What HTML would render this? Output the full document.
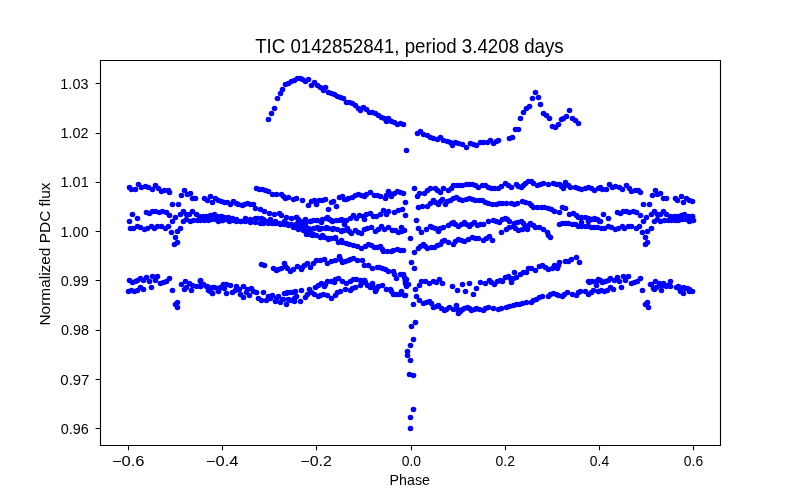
<!DOCTYPE html>
<html><head><meta charset="utf-8"><style>
html,body{margin:0;padding:0;background:#fff;width:800px;height:500px;overflow:hidden}
svg{display:block;will-change:transform}
text{font-family:"Liberation Sans",sans-serif;fill:#000}
</style></head><body>
<svg width="800" height="500" viewBox="0 0 800 500">
<rect width="800" height="500" fill="#fff"/>
<g fill="#0000ff"><circle cx="268.5" cy="119.5" r="2.78"/><circle cx="271.5" cy="113.5" r="2.78"/><circle cx="274.5" cy="108.5" r="2.78"/><circle cx="277.5" cy="98.5" r="2.78"/><circle cx="280.5" cy="93.5" r="2.78"/><circle cx="282.5" cy="89.5" r="2.78"/><circle cx="285.5" cy="84.5" r="2.78"/><circle cx="288.5" cy="83.5" r="2.78"/><circle cx="291.5" cy="81.5" r="2.78"/><circle cx="294.5" cy="80.5" r="2.78"/><circle cx="297.5" cy="78.5" r="2.78"/><circle cx="300.5" cy="78.5" r="2.78"/><circle cx="302.5" cy="79.5" r="2.78"/><circle cx="305.5" cy="81.5" r="2.78"/><circle cx="308.5" cy="79.5" r="2.78"/><circle cx="311.5" cy="85.5" r="2.78"/><circle cx="314.5" cy="82.5" r="2.78"/><circle cx="317.5" cy="85.5" r="2.78"/><circle cx="320.5" cy="87.5" r="2.78"/><circle cx="323.5" cy="90.5" r="2.78"/><circle cx="325.5" cy="87.5" r="2.78"/><circle cx="328.5" cy="92.5" r="2.78"/><circle cx="331.5" cy="93.5" r="2.78"/><circle cx="334.5" cy="94.5" r="2.78"/><circle cx="337.5" cy="96.5" r="2.78"/><circle cx="340.5" cy="97.5" r="2.78"/><circle cx="343.5" cy="98.5" r="2.78"/><circle cx="346.5" cy="102.5" r="2.78"/><circle cx="349.5" cy="102.5" r="2.78"/><circle cx="352.5" cy="103.5" r="2.78"/><circle cx="355.5" cy="105.5" r="2.78"/><circle cx="358.5" cy="108.5" r="2.78"/><circle cx="360.5" cy="110.5" r="2.78"/><circle cx="363.5" cy="107.5" r="2.78"/><circle cx="366.5" cy="109.5" r="2.78"/><circle cx="369.5" cy="112.5" r="2.78"/><circle cx="372.5" cy="112.5" r="2.78"/><circle cx="375.5" cy="113.5" r="2.78"/><circle cx="378.5" cy="115.5" r="2.78"/><circle cx="381.5" cy="117.5" r="2.78"/><circle cx="384.5" cy="118.5" r="2.78"/><circle cx="386.5" cy="121.5" r="2.78"/><circle cx="388.5" cy="118.5" r="2.78"/><circle cx="391.5" cy="121.5" r="2.78"/><circle cx="394.5" cy="122.5" r="2.78"/><circle cx="397.5" cy="124.5" r="2.78"/><circle cx="400.5" cy="123.5" r="2.78"/><circle cx="403.5" cy="124.5" r="2.78"/><circle cx="406.5" cy="150.5" r="2.78"/><circle cx="417.5" cy="133.5" r="2.78"/><circle cx="420.5" cy="131.5" r="2.78"/><circle cx="423.5" cy="134.5" r="2.78"/><circle cx="427.5" cy="135.5" r="2.78"/><circle cx="430.5" cy="137.5" r="2.78"/><circle cx="433.5" cy="138.5" r="2.78"/><circle cx="437.5" cy="139.5" r="2.78"/><circle cx="440.5" cy="137.5" r="2.78"/><circle cx="443.5" cy="140.5" r="2.78"/><circle cx="447.5" cy="141.5" r="2.78"/><circle cx="450.5" cy="142.5" r="2.78"/><circle cx="452.5" cy="145.5" r="2.78"/><circle cx="455.5" cy="142.5" r="2.78"/><circle cx="458.5" cy="143.5" r="2.78"/><circle cx="462.5" cy="144.5" r="2.78"/><circle cx="466.5" cy="147.5" r="2.78"/><circle cx="470.5" cy="143.5" r="2.78"/><circle cx="473.5" cy="144.5" r="2.78"/><circle cx="476.5" cy="145.5" r="2.78"/><circle cx="480.5" cy="142.5" r="2.78"/><circle cx="483.5" cy="142.5" r="2.78"/><circle cx="487.5" cy="142.5" r="2.78"/><circle cx="490.5" cy="140.5" r="2.78"/><circle cx="493.5" cy="143.5" r="2.78"/><circle cx="496.5" cy="141.5" r="2.78"/><circle cx="498.5" cy="140.5" r="2.78"/><circle cx="509.5" cy="138.5" r="2.78"/><circle cx="512.5" cy="137.5" r="2.78"/><circle cx="515.5" cy="129.5" r="2.78"/><circle cx="518.5" cy="129.5" r="2.78"/><circle cx="520.5" cy="118.5" r="2.78"/><circle cx="523.5" cy="112.5" r="2.78"/><circle cx="526.5" cy="108.5" r="2.78"/><circle cx="529.5" cy="106.5" r="2.78"/><circle cx="532.5" cy="98.5" r="2.78"/><circle cx="535.5" cy="92.5" r="2.78"/><circle cx="538.5" cy="97.5" r="2.78"/><circle cx="540.5" cy="104.5" r="2.78"/><circle cx="543.5" cy="113.5" r="2.78"/><circle cx="546.5" cy="115.5" r="2.78"/><circle cx="549.5" cy="118.5" r="2.78"/><circle cx="552.5" cy="126.5" r="2.78"/><circle cx="555.5" cy="127.5" r="2.78"/><circle cx="558.5" cy="124.5" r="2.78"/><circle cx="561.5" cy="119.5" r="2.78"/><circle cx="563.5" cy="118.5" r="2.78"/><circle cx="566.5" cy="116.5" r="2.78"/><circle cx="569.5" cy="110.5" r="2.78"/><circle cx="572.5" cy="118.5" r="2.78"/><circle cx="575.5" cy="120.5" r="2.78"/><circle cx="578.5" cy="123.5" r="2.78"/><circle cx="302.5" cy="200.5" r="2.78"/><circle cx="308.5" cy="205.5" r="2.78"/><circle cx="311.5" cy="201.5" r="2.78"/><circle cx="314.5" cy="200.5" r="2.78"/><circle cx="316.5" cy="204.5" r="2.78"/><circle cx="319.5" cy="200.5" r="2.78"/><circle cx="322.5" cy="200.5" r="2.78"/><circle cx="325.5" cy="199.5" r="2.78"/><circle cx="328.5" cy="209.5" r="2.78"/><circle cx="331.5" cy="202.5" r="2.78"/><circle cx="333.5" cy="201.5" r="2.78"/><circle cx="336.5" cy="206.5" r="2.78"/><circle cx="405.5" cy="202.5" r="2.78"/><circle cx="405.5" cy="215.5" r="2.78"/><circle cx="401.5" cy="227.5" r="2.78"/><circle cx="296.5" cy="217.5" r="2.78"/><circle cx="297.5" cy="223.5" r="2.78"/><circle cx="297.5" cy="228.5" r="2.78"/><circle cx="302.5" cy="222.5" r="2.78"/><circle cx="301.5" cy="228.5" r="2.78"/><circle cx="306.5" cy="232.5" r="2.78"/><circle cx="310.5" cy="221.5" r="2.78"/><circle cx="316.5" cy="220.5" r="2.78"/><circle cx="314.5" cy="228.5" r="2.78"/><circle cx="312.5" cy="235.5" r="2.78"/><circle cx="321.5" cy="222.5" r="2.78"/><circle cx="319.5" cy="229.5" r="2.78"/><circle cx="322.5" cy="235.5" r="2.78"/><circle cx="327.5" cy="217.5" r="2.78"/><circle cx="326.5" cy="227.5" r="2.78"/><circle cx="331.5" cy="220.5" r="2.78"/><circle cx="333.5" cy="228.5" r="2.78"/><circle cx="335.5" cy="237.5" r="2.78"/><circle cx="339.5" cy="220.5" r="2.78"/><circle cx="342.5" cy="230.5" r="2.78"/><circle cx="344.5" cy="224.5" r="2.78"/><circle cx="341.5" cy="240.5" r="2.78"/><circle cx="328.5" cy="238.5" r="2.78"/><circle cx="296.5" cy="225.5" r="2.78"/><circle cx="305.5" cy="219.5" r="2.78"/><circle cx="308.5" cy="228.5" r="2.78"/><circle cx="200.5" cy="280.5" r="2.78"/><circle cx="200.5" cy="286.5" r="2.78"/><circle cx="206.5" cy="286.5" r="2.78"/><circle cx="208.5" cy="290.5" r="2.78"/><circle cx="212.5" cy="293.5" r="2.78"/><circle cx="214.5" cy="287.5" r="2.78"/><circle cx="218.5" cy="290.5" r="2.78"/><circle cx="223.5" cy="284.5" r="2.78"/><circle cx="226.5" cy="284.5" r="2.78"/><circle cx="224.5" cy="288.5" r="2.78"/><circle cx="226.5" cy="293.5" r="2.78"/><circle cx="230.5" cy="285.5" r="2.78"/><circle cx="232.5" cy="292.5" r="2.78"/><circle cx="236.5" cy="286.5" r="2.78"/><circle cx="243.5" cy="286.5" r="2.78"/><circle cx="235.5" cy="290.5" r="2.78"/><circle cx="240.5" cy="294.5" r="2.78"/><circle cx="243.5" cy="297.5" r="2.78"/><circle cx="246.5" cy="292.5" r="2.78"/><circle cx="203.5" cy="284.5" r="2.78"/><circle cx="210.5" cy="288.5" r="2.78"/><circle cx="220.5" cy="287.5" r="2.78"/><circle cx="239.5" cy="289.5" r="2.78"/><circle cx="247.5" cy="289.5" r="2.78"/><circle cx="251.5" cy="288.5" r="2.78"/><circle cx="249.5" cy="295.5" r="2.78"/><circle cx="256.5" cy="292.5" r="2.78"/><circle cx="258.5" cy="298.5" r="2.78"/><circle cx="261.5" cy="300.5" r="2.78"/><circle cx="263.5" cy="292.5" r="2.78"/><circle cx="266.5" cy="300.5" r="2.78"/><circle cx="268.5" cy="296.5" r="2.78"/><circle cx="272.5" cy="295.5" r="2.78"/><circle cx="275.5" cy="301.5" r="2.78"/><circle cx="278.5" cy="296.5" r="2.78"/><circle cx="280.5" cy="302.5" r="2.78"/><circle cx="284.5" cy="293.5" r="2.78"/><circle cx="287.5" cy="292.5" r="2.78"/><circle cx="286.5" cy="304.5" r="2.78"/><circle cx="288.5" cy="299.5" r="2.78"/><circle cx="292.5" cy="292.5" r="2.78"/><circle cx="294.5" cy="298.5" r="2.78"/><circle cx="253.5" cy="291.5" r="2.78"/><circle cx="270.5" cy="298.5" r="2.78"/><circle cx="276.5" cy="298.5" r="2.78"/><circle cx="283.5" cy="299.5" r="2.78"/><circle cx="286.5" cy="293.5" r="2.78"/><circle cx="290.5" cy="292.5" r="2.78"/><circle cx="295.5" cy="291.5" r="2.78"/><circle cx="301.5" cy="290.5" r="2.78"/><circle cx="309.5" cy="289.5" r="2.78"/><circle cx="311.5" cy="292.5" r="2.78"/><circle cx="282.5" cy="299.5" r="2.78"/><circle cx="290.5" cy="300.5" r="2.78"/><circle cx="294.5" cy="301.5" r="2.78"/><circle cx="300.5" cy="301.5" r="2.78"/><circle cx="296.5" cy="296.5" r="2.78"/><circle cx="305.5" cy="297.5" r="2.78"/><circle cx="307.5" cy="294.5" r="2.78"/><circle cx="405.5" cy="280.5" r="2.78"/><circle cx="406.5" cy="279.5" r="2.78"/><circle cx="408.5" cy="284.5" r="2.78"/><circle cx="405.5" cy="295.5" r="2.78"/><circle cx="413.5" cy="304.5" r="2.78"/><circle cx="415.5" cy="322.5" r="2.78"/><circle cx="411.5" cy="326.5" r="2.78"/><circle cx="413.5" cy="339.5" r="2.78"/><circle cx="410.5" cy="345.5" r="2.78"/><circle cx="407.5" cy="351.5" r="2.78"/><circle cx="407.5" cy="355.5" r="2.78"/><circle cx="410.5" cy="360.5" r="2.78"/><circle cx="409.5" cy="374.5" r="2.78"/><circle cx="413.5" cy="375.5" r="2.78"/><circle cx="413.5" cy="409.5" r="2.78"/><circle cx="410.5" cy="417.5" r="2.78"/><circle cx="410.5" cy="428.5" r="2.78"/><circle cx="411.5" cy="262.5" r="2.78"/><circle cx="414.5" cy="268.5" r="2.78"/><circle cx="415.5" cy="289.5" r="2.78"/><circle cx="410.5" cy="238.5" r="2.78"/><circle cx="414.5" cy="188.5" r="2.78"/><circle cx="416.5" cy="220.5" r="2.78"/><circle cx="417.5" cy="196.5" r="2.78"/><circle cx="562.5" cy="207.5" r="2.78"/><circle cx="565.5" cy="208.5" r="2.78"/><circle cx="581.5" cy="222.5" r="2.78"/><circle cx="588.5" cy="221.5" r="2.78"/><circle cx="594.5" cy="219.5" r="2.78"/><circle cx="599.5" cy="221.5" r="2.78"/><circle cx="452.5" cy="286.5" r="2.78"/><circle cx="457.5" cy="290.5" r="2.78"/><circle cx="462.5" cy="284.5" r="2.78"/><circle cx="465.5" cy="291.5" r="2.78"/><circle cx="469.5" cy="283.5" r="2.78"/><circle cx="473.5" cy="294.5" r="2.78"/><circle cx="476.5" cy="288.5" r="2.78"/><circle cx="588.5" cy="281.5" r="2.78"/><circle cx="591.5" cy="281.5" r="2.78"/><circle cx="596.5" cy="285.5" r="2.78"/><circle cx="598.5" cy="279.5" r="2.78"/><circle cx="224.5" cy="202.5" r="2.78"/><circle cx="227.5" cy="202.5" r="2.78"/><circle cx="230.5" cy="204.5" r="2.78"/><circle cx="233.5" cy="201.5" r="2.78"/><circle cx="236.5" cy="203.5" r="2.78"/><circle cx="238.5" cy="204.5" r="2.78"/><circle cx="242.5" cy="205.5" r="2.78"/><circle cx="244.5" cy="204.5" r="2.78"/><circle cx="247.5" cy="203.5" r="2.78"/><circle cx="250.5" cy="204.5" r="2.78"/><circle cx="253.5" cy="204.5" r="2.78"/><circle cx="255.5" cy="208.5" r="2.78"/><circle cx="260.5" cy="209.5" r="2.78"/><circle cx="264.5" cy="211.5" r="2.78"/><circle cx="269.5" cy="213.5" r="2.78"/><circle cx="274.5" cy="214.5" r="2.78"/><circle cx="279.5" cy="213.5" r="2.78"/><circle cx="281.5" cy="215.5" r="2.78"/><circle cx="286.5" cy="217.5" r="2.78"/><circle cx="291.5" cy="218.5" r="2.78"/><circle cx="296.5" cy="217.5" r="2.78"/><circle cx="298.5" cy="219.5" r="2.78"/><circle cx="300.5" cy="221.5" r="2.78"/><circle cx="305.5" cy="223.5" r="2.78"/><circle cx="310.5" cy="221.5" r="2.78"/><circle cx="313.5" cy="220.5" r="2.78"/><circle cx="317.5" cy="220.5" r="2.78"/><circle cx="322.5" cy="219.5" r="2.78"/><circle cx="326.5" cy="218.5" r="2.78"/><circle cx="329.5" cy="219.5" r="2.78"/><circle cx="332.5" cy="221.5" r="2.78"/><circle cx="336.5" cy="220.5" r="2.78"/><circle cx="341.5" cy="219.5" r="2.78"/><circle cx="343.5" cy="220.5" r="2.78"/><circle cx="346.5" cy="220.5" r="2.78"/><circle cx="350.5" cy="218.5" r="2.78"/><circle cx="353.5" cy="215.5" r="2.78"/><circle cx="356.5" cy="218.5" r="2.78"/><circle cx="359.5" cy="215.5" r="2.78"/><circle cx="363.5" cy="216.5" r="2.78"/><circle cx="364.5" cy="219.5" r="2.78"/><circle cx="366.5" cy="214.5" r="2.78"/><circle cx="370.5" cy="213.5" r="2.78"/><circle cx="373.5" cy="216.5" r="2.78"/><circle cx="376.5" cy="216.5" r="2.78"/><circle cx="380.5" cy="214.5" r="2.78"/><circle cx="383.5" cy="210.5" r="2.78"/><circle cx="386.5" cy="214.5" r="2.78"/><circle cx="388.5" cy="211.5" r="2.78"/><circle cx="394.5" cy="212.5" r="2.78"/><circle cx="398.5" cy="210.5" r="2.78"/><circle cx="402.5" cy="209.5" r="2.78"/><circle cx="221.5" cy="216.5" r="2.78"/><circle cx="224.5" cy="217.5" r="2.78"/><circle cx="228.5" cy="217.5" r="2.78"/><circle cx="232.5" cy="218.5" r="2.78"/><circle cx="236.5" cy="219.5" r="2.78"/><circle cx="240.5" cy="221.5" r="2.78"/><circle cx="245.5" cy="218.5" r="2.78"/><circle cx="250.5" cy="219.5" r="2.78"/><circle cx="255.5" cy="218.5" r="2.78"/><circle cx="257.5" cy="218.5" r="2.78"/><circle cx="261.5" cy="218.5" r="2.78"/><circle cx="263.5" cy="219.5" r="2.78"/><circle cx="266.5" cy="221.5" r="2.78"/><circle cx="270.5" cy="219.5" r="2.78"/><circle cx="275.5" cy="221.5" r="2.78"/><circle cx="279.5" cy="223.5" r="2.78"/><circle cx="284.5" cy="221.5" r="2.78"/><circle cx="286.5" cy="223.5" r="2.78"/><circle cx="288.5" cy="225.5" r="2.78"/><circle cx="293.5" cy="227.5" r="2.78"/><circle cx="298.5" cy="229.5" r="2.78"/><circle cx="303.5" cy="230.5" r="2.78"/><circle cx="306.5" cy="234.5" r="2.78"/><circle cx="309.5" cy="234.5" r="2.78"/><circle cx="313.5" cy="234.5" r="2.78"/><circle cx="316.5" cy="235.5" r="2.78"/><circle cx="320.5" cy="237.5" r="2.78"/><circle cx="324.5" cy="237.5" r="2.78"/><circle cx="328.5" cy="239.5" r="2.78"/><circle cx="331.5" cy="238.5" r="2.78"/><circle cx="335.5" cy="238.5" r="2.78"/><circle cx="338.5" cy="242.5" r="2.78"/><circle cx="342.5" cy="242.5" r="2.78"/><circle cx="346.5" cy="243.5" r="2.78"/><circle cx="349.5" cy="244.5" r="2.78"/><circle cx="353.5" cy="245.5" r="2.78"/><circle cx="357.5" cy="246.5" r="2.78"/><circle cx="361.5" cy="248.5" r="2.78"/><circle cx="365.5" cy="246.5" r="2.78"/><circle cx="368.5" cy="244.5" r="2.78"/><circle cx="371.5" cy="245.5" r="2.78"/><circle cx="374.5" cy="247.5" r="2.78"/><circle cx="377.5" cy="247.5" r="2.78"/><circle cx="380.5" cy="246.5" r="2.78"/><circle cx="382.5" cy="249.5" r="2.78"/><circle cx="383.5" cy="251.5" r="2.78"/><circle cx="387.5" cy="251.5" r="2.78"/><circle cx="391.5" cy="251.5" r="2.78"/><circle cx="393.5" cy="250.5" r="2.78"/><circle cx="397.5" cy="249.5" r="2.78"/><circle cx="400.5" cy="250.5" r="2.78"/><circle cx="403.5" cy="250.5" r="2.78"/><circle cx="222.5" cy="220.5" r="2.78"/><circle cx="226.5" cy="219.5" r="2.78"/><circle cx="229.5" cy="221.5" r="2.78"/><circle cx="233.5" cy="220.5" r="2.78"/><circle cx="236.5" cy="221.5" r="2.78"/><circle cx="241.5" cy="221.5" r="2.78"/><circle cx="245.5" cy="221.5" r="2.78"/><circle cx="250.5" cy="222.5" r="2.78"/><circle cx="255.5" cy="222.5" r="2.78"/><circle cx="260.5" cy="223.5" r="2.78"/><circle cx="263.5" cy="223.5" r="2.78"/><circle cx="268.5" cy="223.5" r="2.78"/><circle cx="272.5" cy="223.5" r="2.78"/><circle cx="275.5" cy="223.5" r="2.78"/><circle cx="280.5" cy="224.5" r="2.78"/><circle cx="284.5" cy="224.5" r="2.78"/><circle cx="288.5" cy="224.5" r="2.78"/><circle cx="291.5" cy="224.5" r="2.78"/><circle cx="296.5" cy="224.5" r="2.78"/><circle cx="299.5" cy="225.5" r="2.78"/><circle cx="303.5" cy="225.5" r="2.78"/><circle cx="306.5" cy="227.5" r="2.78"/><circle cx="310.5" cy="230.5" r="2.78"/><circle cx="313.5" cy="228.5" r="2.78"/><circle cx="317.5" cy="227.5" r="2.78"/><circle cx="321.5" cy="228.5" r="2.78"/><circle cx="325.5" cy="228.5" r="2.78"/><circle cx="328.5" cy="228.5" r="2.78"/><circle cx="332.5" cy="229.5" r="2.78"/><circle cx="337.5" cy="229.5" r="2.78"/><circle cx="341.5" cy="231.5" r="2.78"/><circle cx="344.5" cy="230.5" r="2.78"/><circle cx="347.5" cy="228.5" r="2.78"/><circle cx="349.5" cy="231.5" r="2.78"/><circle cx="351.5" cy="233.5" r="2.78"/><circle cx="355.5" cy="230.5" r="2.78"/><circle cx="358.5" cy="232.5" r="2.78"/><circle cx="361.5" cy="233.5" r="2.78"/><circle cx="364.5" cy="229.5" r="2.78"/><circle cx="367.5" cy="228.5" r="2.78"/><circle cx="371.5" cy="227.5" r="2.78"/><circle cx="375.5" cy="231.5" r="2.78"/><circle cx="378.5" cy="229.5" r="2.78"/><circle cx="381.5" cy="226.5" r="2.78"/><circle cx="384.5" cy="229.5" r="2.78"/><circle cx="388.5" cy="227.5" r="2.78"/><circle cx="392.5" cy="230.5" r="2.78"/><circle cx="395.5" cy="230.5" r="2.78"/><circle cx="398.5" cy="232.5" r="2.78"/><circle cx="401.5" cy="231.5" r="2.78"/><circle cx="404.5" cy="230.5" r="2.78"/><circle cx="256.5" cy="188.5" r="2.78"/><circle cx="259.5" cy="189.5" r="2.78"/><circle cx="262.5" cy="189.5" r="2.78"/><circle cx="265.5" cy="190.5" r="2.78"/><circle cx="268.5" cy="191.5" r="2.78"/><circle cx="272.5" cy="194.5" r="2.78"/><circle cx="276.5" cy="194.5" r="2.78"/><circle cx="281.5" cy="194.5" r="2.78"/><circle cx="283.5" cy="196.5" r="2.78"/><circle cx="285.5" cy="198.5" r="2.78"/><circle cx="288.5" cy="197.5" r="2.78"/><circle cx="293.5" cy="199.5" r="2.78"/><circle cx="296.5" cy="198.5" r="2.78"/><circle cx="339.5" cy="197.5" r="2.78"/><circle cx="342.5" cy="196.5" r="2.78"/><circle cx="344.5" cy="199.5" r="2.78"/><circle cx="346.5" cy="199.5" r="2.78"/><circle cx="348.5" cy="198.5" r="2.78"/><circle cx="352.5" cy="197.5" r="2.78"/><circle cx="355.5" cy="195.5" r="2.78"/><circle cx="358.5" cy="194.5" r="2.78"/><circle cx="361.5" cy="195.5" r="2.78"/><circle cx="364.5" cy="196.5" r="2.78"/><circle cx="366.5" cy="194.5" r="2.78"/><circle cx="370.5" cy="192.5" r="2.78"/><circle cx="374.5" cy="195.5" r="2.78"/><circle cx="377.5" cy="195.5" r="2.78"/><circle cx="380.5" cy="196.5" r="2.78"/><circle cx="385.5" cy="198.5" r="2.78"/><circle cx="386.5" cy="195.5" r="2.78"/><circle cx="388.5" cy="191.5" r="2.78"/><circle cx="389.5" cy="193.5" r="2.78"/><circle cx="391.5" cy="196.5" r="2.78"/><circle cx="394.5" cy="193.5" r="2.78"/><circle cx="397.5" cy="191.5" r="2.78"/><circle cx="400.5" cy="192.5" r="2.78"/><circle cx="403.5" cy="193.5" r="2.78"/><circle cx="261.5" cy="264.5" r="2.78"/><circle cx="264.5" cy="265.5" r="2.78"/><circle cx="273.5" cy="268.5" r="2.78"/><circle cx="276.5" cy="270.5" r="2.78"/><circle cx="278.5" cy="269.5" r="2.78"/><circle cx="281.5" cy="268.5" r="2.78"/><circle cx="284.5" cy="263.5" r="2.78"/><circle cx="285.5" cy="266.5" r="2.78"/><circle cx="287.5" cy="268.5" r="2.78"/><circle cx="290.5" cy="271.5" r="2.78"/><circle cx="293.5" cy="269.5" r="2.78"/><circle cx="297.5" cy="266.5" r="2.78"/><circle cx="301.5" cy="269.5" r="2.78"/><circle cx="302.5" cy="267.5" r="2.78"/><circle cx="304.5" cy="265.5" r="2.78"/><circle cx="307.5" cy="263.5" r="2.78"/><circle cx="310.5" cy="267.5" r="2.78"/><circle cx="313.5" cy="263.5" r="2.78"/><circle cx="316.5" cy="260.5" r="2.78"/><circle cx="320.5" cy="260.5" r="2.78"/><circle cx="324.5" cy="259.5" r="2.78"/><circle cx="327.5" cy="263.5" r="2.78"/><circle cx="331.5" cy="261.5" r="2.78"/><circle cx="335.5" cy="260.5" r="2.78"/><circle cx="339.5" cy="256.5" r="2.78"/><circle cx="340.5" cy="259.5" r="2.78"/><circle cx="342.5" cy="262.5" r="2.78"/><circle cx="345.5" cy="261.5" r="2.78"/><circle cx="348.5" cy="260.5" r="2.78"/><circle cx="350.5" cy="259.5" r="2.78"/><circle cx="353.5" cy="258.5" r="2.78"/><circle cx="357.5" cy="260.5" r="2.78"/><circle cx="362.5" cy="260.5" r="2.78"/><circle cx="364.5" cy="265.5" r="2.78"/><circle cx="368.5" cy="265.5" r="2.78"/><circle cx="372.5" cy="268.5" r="2.78"/><circle cx="377.5" cy="267.5" r="2.78"/><circle cx="379.5" cy="267.5" r="2.78"/><circle cx="382.5" cy="268.5" r="2.78"/><circle cx="385.5" cy="269.5" r="2.78"/><circle cx="388.5" cy="271.5" r="2.78"/><circle cx="393.5" cy="271.5" r="2.78"/><circle cx="394.5" cy="274.5" r="2.78"/><circle cx="396.5" cy="278.5" r="2.78"/><circle cx="400.5" cy="274.5" r="2.78"/><circle cx="403.5" cy="274.5" r="2.78"/><circle cx="404.5" cy="277.5" r="2.78"/><circle cx="405.5" cy="280.5" r="2.78"/><circle cx="405.5" cy="283.5" r="2.78"/><circle cx="406.5" cy="286.5" r="2.78"/><circle cx="314.5" cy="294.5" r="2.78"/><circle cx="318.5" cy="296.5" r="2.78"/><circle cx="320.5" cy="295.5" r="2.78"/><circle cx="323.5" cy="294.5" r="2.78"/><circle cx="327.5" cy="295.5" r="2.78"/><circle cx="331.5" cy="298.5" r="2.78"/><circle cx="335.5" cy="295.5" r="2.78"/><circle cx="337.5" cy="292.5" r="2.78"/><circle cx="340.5" cy="291.5" r="2.78"/><circle cx="345.5" cy="289.5" r="2.78"/><circle cx="350.5" cy="290.5" r="2.78"/><circle cx="352.5" cy="288.5" r="2.78"/><circle cx="355.5" cy="287.5" r="2.78"/><circle cx="360.5" cy="285.5" r="2.78"/><circle cx="362.5" cy="282.5" r="2.78"/><circle cx="364.5" cy="280.5" r="2.78"/><circle cx="315.5" cy="287.5" r="2.78"/><circle cx="318.5" cy="285.5" r="2.78"/><circle cx="321.5" cy="283.5" r="2.78"/><circle cx="324.5" cy="286.5" r="2.78"/><circle cx="325.5" cy="284.5" r="2.78"/><circle cx="327.5" cy="281.5" r="2.78"/><circle cx="331.5" cy="281.5" r="2.78"/><circle cx="334.5" cy="282.5" r="2.78"/><circle cx="335.5" cy="279.5" r="2.78"/><circle cx="338.5" cy="278.5" r="2.78"/><circle cx="342.5" cy="281.5" r="2.78"/><circle cx="346.5" cy="283.5" r="2.78"/><circle cx="350.5" cy="281.5" r="2.78"/><circle cx="353.5" cy="279.5" r="2.78"/><circle cx="356.5" cy="279.5" r="2.78"/><circle cx="360.5" cy="280.5" r="2.78"/><circle cx="364.5" cy="280.5" r="2.78"/><circle cx="365.5" cy="282.5" r="2.78"/><circle cx="367.5" cy="285.5" r="2.78"/><circle cx="370.5" cy="287.5" r="2.78"/><circle cx="371.5" cy="285.5" r="2.78"/><circle cx="372.5" cy="283.5" r="2.78"/><circle cx="373.5" cy="287.5" r="2.78"/><circle cx="375.5" cy="291.5" r="2.78"/><circle cx="376.5" cy="289.5" r="2.78"/><circle cx="378.5" cy="286.5" r="2.78"/><circle cx="382.5" cy="285.5" r="2.78"/><circle cx="386.5" cy="289.5" r="2.78"/><circle cx="390.5" cy="289.5" r="2.78"/><circle cx="391.5" cy="291.5" r="2.78"/><circle cx="393.5" cy="294.5" r="2.78"/><circle cx="396.5" cy="294.5" r="2.78"/><circle cx="399.5" cy="294.5" r="2.78"/><circle cx="401.5" cy="291.5" r="2.78"/><circle cx="404.5" cy="295.5" r="2.78"/><circle cx="419.5" cy="193.5" r="2.78"/><circle cx="424.5" cy="193.5" r="2.78"/><circle cx="427.5" cy="190.5" r="2.78"/><circle cx="430.5" cy="188.5" r="2.78"/><circle cx="435.5" cy="188.5" r="2.78"/><circle cx="437.5" cy="190.5" r="2.78"/><circle cx="440.5" cy="192.5" r="2.78"/><circle cx="443.5" cy="188.5" r="2.78"/><circle cx="448.5" cy="190.5" r="2.78"/><circle cx="451.5" cy="188.5" r="2.78"/><circle cx="453.5" cy="185.5" r="2.78"/><circle cx="456.5" cy="185.5" r="2.78"/><circle cx="459.5" cy="185.5" r="2.78"/><circle cx="462.5" cy="185.5" r="2.78"/><circle cx="466.5" cy="184.5" r="2.78"/><circle cx="469.5" cy="184.5" r="2.78"/><circle cx="472.5" cy="184.5" r="2.78"/><circle cx="475.5" cy="185.5" r="2.78"/><circle cx="478.5" cy="187.5" r="2.78"/><circle cx="482.5" cy="185.5" r="2.78"/><circle cx="485.5" cy="185.5" r="2.78"/><circle cx="488.5" cy="187.5" r="2.78"/><circle cx="491.5" cy="188.5" r="2.78"/><circle cx="494.5" cy="188.5" r="2.78"/><circle cx="498.5" cy="188.5" r="2.78"/><circle cx="501.5" cy="186.5" r="2.78"/><circle cx="505.5" cy="183.5" r="2.78"/><circle cx="508.5" cy="185.5" r="2.78"/><circle cx="511.5" cy="187.5" r="2.78"/><circle cx="516.5" cy="184.5" r="2.78"/><circle cx="518.5" cy="186.5" r="2.78"/><circle cx="521.5" cy="187.5" r="2.78"/><circle cx="523.5" cy="185.5" r="2.78"/><circle cx="525.5" cy="183.5" r="2.78"/><circle cx="528.5" cy="181.5" r="2.78"/><circle cx="531.5" cy="181.5" r="2.78"/><circle cx="533.5" cy="183.5" r="2.78"/><circle cx="537.5" cy="185.5" r="2.78"/><circle cx="540.5" cy="184.5" r="2.78"/><circle cx="543.5" cy="183.5" r="2.78"/><circle cx="548.5" cy="184.5" r="2.78"/><circle cx="553.5" cy="183.5" r="2.78"/><circle cx="556.5" cy="184.5" r="2.78"/><circle cx="559.5" cy="184.5" r="2.78"/><circle cx="561.5" cy="186.5" r="2.78"/><circle cx="563.5" cy="188.5" r="2.78"/><circle cx="564.5" cy="185.5" r="2.78"/><circle cx="565.5" cy="182.5" r="2.78"/><circle cx="568.5" cy="185.5" r="2.78"/><circle cx="570.5" cy="187.5" r="2.78"/><circle cx="575.5" cy="187.5" r="2.78"/><circle cx="578.5" cy="188.5" r="2.78"/><circle cx="581.5" cy="189.5" r="2.78"/><circle cx="585.5" cy="188.5" r="2.78"/><circle cx="588.5" cy="187.5" r="2.78"/><circle cx="591.5" cy="188.5" r="2.78"/><circle cx="594.5" cy="190.5" r="2.78"/><circle cx="598.5" cy="188.5" r="2.78"/><circle cx="418.5" cy="207.5" r="2.78"/><circle cx="422.5" cy="206.5" r="2.78"/><circle cx="427.5" cy="206.5" r="2.78"/><circle cx="430.5" cy="203.5" r="2.78"/><circle cx="433.5" cy="200.5" r="2.78"/><circle cx="435.5" cy="202.5" r="2.78"/><circle cx="438.5" cy="204.5" r="2.78"/><circle cx="440.5" cy="201.5" r="2.78"/><circle cx="442.5" cy="199.5" r="2.78"/><circle cx="445.5" cy="204.5" r="2.78"/><circle cx="447.5" cy="201.5" r="2.78"/><circle cx="450.5" cy="200.5" r="2.78"/><circle cx="453.5" cy="198.5" r="2.78"/><circle cx="456.5" cy="197.5" r="2.78"/><circle cx="459.5" cy="199.5" r="2.78"/><circle cx="462.5" cy="200.5" r="2.78"/><circle cx="466.5" cy="199.5" r="2.78"/><circle cx="469.5" cy="198.5" r="2.78"/><circle cx="472.5" cy="199.5" r="2.78"/><circle cx="475.5" cy="200.5" r="2.78"/><circle cx="479.5" cy="200.5" r="2.78"/><circle cx="482.5" cy="200.5" r="2.78"/><circle cx="485.5" cy="202.5" r="2.78"/><circle cx="488.5" cy="203.5" r="2.78"/><circle cx="492.5" cy="204.5" r="2.78"/><circle cx="496.5" cy="204.5" r="2.78"/><circle cx="499.5" cy="203.5" r="2.78"/><circle cx="502.5" cy="203.5" r="2.78"/><circle cx="506.5" cy="203.5" r="2.78"/><circle cx="511.5" cy="203.5" r="2.78"/><circle cx="514.5" cy="204.5" r="2.78"/><circle cx="517.5" cy="203.5" r="2.78"/><circle cx="522.5" cy="201.5" r="2.78"/><circle cx="525.5" cy="202.5" r="2.78"/><circle cx="529.5" cy="203.5" r="2.78"/><circle cx="531.5" cy="205.5" r="2.78"/><circle cx="533.5" cy="207.5" r="2.78"/><circle cx="537.5" cy="207.5" r="2.78"/><circle cx="541.5" cy="207.5" r="2.78"/><circle cx="544.5" cy="207.5" r="2.78"/><circle cx="548.5" cy="208.5" r="2.78"/><circle cx="551.5" cy="209.5" r="2.78"/><circle cx="554.5" cy="211.5" r="2.78"/><circle cx="559.5" cy="212.5" r="2.78"/><circle cx="569.5" cy="214.5" r="2.78"/><circle cx="573.5" cy="213.5" r="2.78"/><circle cx="576.5" cy="215.5" r="2.78"/><circle cx="578.5" cy="217.5" r="2.78"/><circle cx="581.5" cy="217.5" r="2.78"/><circle cx="585.5" cy="217.5" r="2.78"/><circle cx="588.5" cy="218.5" r="2.78"/><circle cx="591.5" cy="219.5" r="2.78"/><circle cx="594.5" cy="218.5" r="2.78"/><circle cx="597.5" cy="219.5" r="2.78"/><circle cx="418.5" cy="228.5" r="2.78"/><circle cx="421.5" cy="232.5" r="2.78"/><circle cx="426.5" cy="229.5" r="2.78"/><circle cx="430.5" cy="226.5" r="2.78"/><circle cx="432.5" cy="227.5" r="2.78"/><circle cx="435.5" cy="228.5" r="2.78"/><circle cx="438.5" cy="231.5" r="2.78"/><circle cx="440.5" cy="228.5" r="2.78"/><circle cx="443.5" cy="227.5" r="2.78"/><circle cx="448.5" cy="225.5" r="2.78"/><circle cx="451.5" cy="223.5" r="2.78"/><circle cx="453.5" cy="222.5" r="2.78"/><circle cx="455.5" cy="224.5" r="2.78"/><circle cx="458.5" cy="226.5" r="2.78"/><circle cx="461.5" cy="224.5" r="2.78"/><circle cx="464.5" cy="222.5" r="2.78"/><circle cx="466.5" cy="224.5" r="2.78"/><circle cx="469.5" cy="226.5" r="2.78"/><circle cx="471.5" cy="224.5" r="2.78"/><circle cx="474.5" cy="222.5" r="2.78"/><circle cx="477.5" cy="225.5" r="2.78"/><circle cx="480.5" cy="224.5" r="2.78"/><circle cx="483.5" cy="224.5" r="2.78"/><circle cx="488.5" cy="221.5" r="2.78"/><circle cx="493.5" cy="220.5" r="2.78"/><circle cx="496.5" cy="221.5" r="2.78"/><circle cx="499.5" cy="222.5" r="2.78"/><circle cx="502.5" cy="219.5" r="2.78"/><circle cx="505.5" cy="218.5" r="2.78"/><circle cx="507.5" cy="219.5" r="2.78"/><circle cx="509.5" cy="221.5" r="2.78"/><circle cx="514.5" cy="223.5" r="2.78"/><circle cx="517.5" cy="222.5" r="2.78"/><circle cx="521.5" cy="221.5" r="2.78"/><circle cx="523.5" cy="223.5" r="2.78"/><circle cx="525.5" cy="226.5" r="2.78"/><circle cx="528.5" cy="225.5" r="2.78"/><circle cx="530.5" cy="223.5" r="2.78"/><circle cx="533.5" cy="225.5" r="2.78"/><circle cx="535.5" cy="227.5" r="2.78"/><circle cx="539.5" cy="227.5" r="2.78"/><circle cx="543.5" cy="229.5" r="2.78"/><circle cx="547.5" cy="232.5" r="2.78"/><circle cx="548.5" cy="235.5" r="2.78"/><circle cx="550.5" cy="237.5" r="2.78"/><circle cx="501.5" cy="232.5" r="2.78"/><circle cx="506.5" cy="229.5" r="2.78"/><circle cx="509.5" cy="227.5" r="2.78"/><circle cx="513.5" cy="226.5" r="2.78"/><circle cx="515.5" cy="228.5" r="2.78"/><circle cx="518.5" cy="230.5" r="2.78"/><circle cx="522.5" cy="229.5" r="2.78"/><circle cx="527.5" cy="229.5" r="2.78"/><circle cx="414.5" cy="252.5" r="2.78"/><circle cx="418.5" cy="248.5" r="2.78"/><circle cx="420.5" cy="246.5" r="2.78"/><circle cx="423.5" cy="244.5" r="2.78"/><circle cx="425.5" cy="246.5" r="2.78"/><circle cx="427.5" cy="248.5" r="2.78"/><circle cx="431.5" cy="247.5" r="2.78"/><circle cx="434.5" cy="247.5" r="2.78"/><circle cx="437.5" cy="245.5" r="2.78"/><circle cx="440.5" cy="244.5" r="2.78"/><circle cx="442.5" cy="241.5" r="2.78"/><circle cx="444.5" cy="240.5" r="2.78"/><circle cx="448.5" cy="242.5" r="2.78"/><circle cx="453.5" cy="244.5" r="2.78"/><circle cx="455.5" cy="241.5" r="2.78"/><circle cx="458.5" cy="239.5" r="2.78"/><circle cx="461.5" cy="240.5" r="2.78"/><circle cx="464.5" cy="241.5" r="2.78"/><circle cx="468.5" cy="239.5" r="2.78"/><circle cx="472.5" cy="237.5" r="2.78"/><circle cx="475.5" cy="238.5" r="2.78"/><circle cx="478.5" cy="238.5" r="2.78"/><circle cx="483.5" cy="240.5" r="2.78"/><circle cx="486.5" cy="238.5" r="2.78"/><circle cx="489.5" cy="236.5" r="2.78"/><circle cx="492.5" cy="240.5" r="2.78"/><circle cx="559.5" cy="224.5" r="2.78"/><circle cx="562.5" cy="223.5" r="2.78"/><circle cx="565.5" cy="223.5" r="2.78"/><circle cx="568.5" cy="223.5" r="2.78"/><circle cx="572.5" cy="224.5" r="2.78"/><circle cx="575.5" cy="224.5" r="2.78"/><circle cx="578.5" cy="226.5" r="2.78"/><circle cx="581.5" cy="226.5" r="2.78"/><circle cx="585.5" cy="226.5" r="2.78"/><circle cx="588.5" cy="226.5" r="2.78"/><circle cx="591.5" cy="227.5" r="2.78"/><circle cx="594.5" cy="227.5" r="2.78"/><circle cx="597.5" cy="227.5" r="2.78"/><circle cx="419.5" cy="285.5" r="2.78"/><circle cx="421.5" cy="281.5" r="2.78"/><circle cx="425.5" cy="281.5" r="2.78"/><circle cx="429.5" cy="283.5" r="2.78"/><circle cx="433.5" cy="281.5" r="2.78"/><circle cx="436.5" cy="282.5" r="2.78"/><circle cx="439.5" cy="279.5" r="2.78"/><circle cx="442.5" cy="283.5" r="2.78"/><circle cx="480.5" cy="282.5" r="2.78"/><circle cx="485.5" cy="283.5" r="2.78"/><circle cx="489.5" cy="280.5" r="2.78"/><circle cx="491.5" cy="282.5" r="2.78"/><circle cx="494.5" cy="284.5" r="2.78"/><circle cx="497.5" cy="281.5" r="2.78"/><circle cx="500.5" cy="280.5" r="2.78"/><circle cx="502.5" cy="281.5" r="2.78"/><circle cx="505.5" cy="277.5" r="2.78"/><circle cx="508.5" cy="276.5" r="2.78"/><circle cx="510.5" cy="278.5" r="2.78"/><circle cx="511.5" cy="282.5" r="2.78"/><circle cx="513.5" cy="278.5" r="2.78"/><circle cx="514.5" cy="272.5" r="2.78"/><circle cx="516.5" cy="277.5" r="2.78"/><circle cx="520.5" cy="274.5" r="2.78"/><circle cx="523.5" cy="272.5" r="2.78"/><circle cx="526.5" cy="272.5" r="2.78"/><circle cx="528.5" cy="268.5" r="2.78"/><circle cx="531.5" cy="268.5" r="2.78"/><circle cx="535.5" cy="270.5" r="2.78"/><circle cx="539.5" cy="266.5" r="2.78"/><circle cx="542.5" cy="265.5" r="2.78"/><circle cx="545.5" cy="267.5" r="2.78"/><circle cx="548.5" cy="269.5" r="2.78"/><circle cx="552.5" cy="268.5" r="2.78"/><circle cx="554.5" cy="265.5" r="2.78"/><circle cx="557.5" cy="268.5" r="2.78"/><circle cx="558.5" cy="265.5" r="2.78"/><circle cx="559.5" cy="262.5" r="2.78"/><circle cx="565.5" cy="261.5" r="2.78"/><circle cx="568.5" cy="261.5" r="2.78"/><circle cx="571.5" cy="259.5" r="2.78"/><circle cx="576.5" cy="257.5" r="2.78"/><circle cx="579.5" cy="262.5" r="2.78"/><circle cx="416.5" cy="296.5" r="2.78"/><circle cx="419.5" cy="300.5" r="2.78"/><circle cx="423.5" cy="303.5" r="2.78"/><circle cx="426.5" cy="302.5" r="2.78"/><circle cx="429.5" cy="301.5" r="2.78"/><circle cx="431.5" cy="303.5" r="2.78"/><circle cx="433.5" cy="307.5" r="2.78"/><circle cx="436.5" cy="306.5" r="2.78"/><circle cx="438.5" cy="305.5" r="2.78"/><circle cx="441.5" cy="308.5" r="2.78"/><circle cx="444.5" cy="310.5" r="2.78"/><circle cx="446.5" cy="309.5" r="2.78"/><circle cx="449.5" cy="307.5" r="2.78"/><circle cx="453.5" cy="309.5" r="2.78"/><circle cx="456.5" cy="305.5" r="2.78"/><circle cx="457.5" cy="309.5" r="2.78"/><circle cx="458.5" cy="313.5" r="2.78"/><circle cx="460.5" cy="311.5" r="2.78"/><circle cx="462.5" cy="309.5" r="2.78"/><circle cx="464.5" cy="308.5" r="2.78"/><circle cx="467.5" cy="307.5" r="2.78"/><circle cx="469.5" cy="308.5" r="2.78"/><circle cx="471.5" cy="310.5" r="2.78"/><circle cx="474.5" cy="309.5" r="2.78"/><circle cx="476.5" cy="308.5" r="2.78"/><circle cx="479.5" cy="309.5" r="2.78"/><circle cx="483.5" cy="310.5" r="2.78"/><circle cx="485.5" cy="308.5" r="2.78"/><circle cx="488.5" cy="307.5" r="2.78"/><circle cx="493.5" cy="308.5" r="2.78"/><circle cx="498.5" cy="309.5" r="2.78"/><circle cx="501.5" cy="308.5" r="2.78"/><circle cx="506.5" cy="307.5" r="2.78"/><circle cx="509.5" cy="306.5" r="2.78"/><circle cx="513.5" cy="305.5" r="2.78"/><circle cx="516.5" cy="304.5" r="2.78"/><circle cx="519.5" cy="304.5" r="2.78"/><circle cx="522.5" cy="303.5" r="2.78"/><circle cx="526.5" cy="302.5" r="2.78"/><circle cx="531.5" cy="302.5" r="2.78"/><circle cx="533.5" cy="300.5" r="2.78"/><circle cx="536.5" cy="299.5" r="2.78"/><circle cx="539.5" cy="297.5" r="2.78"/><circle cx="542.5" cy="296.5" r="2.78"/><circle cx="548.5" cy="296.5" r="2.78"/><circle cx="550.5" cy="294.5" r="2.78"/><circle cx="553.5" cy="293.5" r="2.78"/><circle cx="556.5" cy="294.5" r="2.78"/><circle cx="558.5" cy="295.5" r="2.78"/><circle cx="562.5" cy="296.5" r="2.78"/><circle cx="564.5" cy="294.5" r="2.78"/><circle cx="567.5" cy="292.5" r="2.78"/><circle cx="572.5" cy="294.5" r="2.78"/><circle cx="576.5" cy="295.5" r="2.78"/><circle cx="578.5" cy="292.5" r="2.78"/><circle cx="580.5" cy="291.5" r="2.78"/><circle cx="585.5" cy="291.5" r="2.78"/><circle cx="588.5" cy="294.5" r="2.78"/><circle cx="591.5" cy="292.5" r="2.78"/><circle cx="593.5" cy="290.5" r="2.78"/><circle cx="598.5" cy="291.5" r="2.78"/><circle cx="589.5" cy="282.5" r="2.78"/><circle cx="592.5" cy="281.5" r="2.78"/><circle cx="596.5" cy="281.5" r="2.78"/><circle cx="600.5" cy="280.5" r="2.78"/><circle cx="129.5" cy="187.5" r="2.78"/><circle cx="131.5" cy="189.5" r="2.78"/><circle cx="135.5" cy="189.5" r="2.78"/><circle cx="138.5" cy="184.5" r="2.78"/><circle cx="141.5" cy="187.5" r="2.78"/><circle cx="145.5" cy="186.5" r="2.78"/><circle cx="148.5" cy="187.5" r="2.78"/><circle cx="152.5" cy="189.5" r="2.78"/><circle cx="155.5" cy="185.5" r="2.78"/><circle cx="158.5" cy="188.5" r="2.78"/><circle cx="161.5" cy="191.5" r="2.78"/><circle cx="164.5" cy="190.5" r="2.78"/><circle cx="168.5" cy="190.5" r="2.78"/><circle cx="169.5" cy="192.5" r="2.78"/><circle cx="172.5" cy="204.5" r="2.78"/><circle cx="178.5" cy="204.5" r="2.78"/><circle cx="181.5" cy="195.5" r="2.78"/><circle cx="184.5" cy="190.5" r="2.78"/><circle cx="187.5" cy="194.5" r="2.78"/><circle cx="190.5" cy="193.5" r="2.78"/><circle cx="192.5" cy="198.5" r="2.78"/><circle cx="195.5" cy="198.5" r="2.78"/><circle cx="204.5" cy="198.5" r="2.78"/><circle cx="207.5" cy="200.5" r="2.78"/><circle cx="210.5" cy="196.5" r="2.78"/><circle cx="212.5" cy="202.5" r="2.78"/><circle cx="215.5" cy="198.5" r="2.78"/><circle cx="218.5" cy="200.5" r="2.78"/><circle cx="221.5" cy="201.5" r="2.78"/><circle cx="132.5" cy="214.5" r="2.78"/><circle cx="137.5" cy="218.5" r="2.78"/><circle cx="129.5" cy="221.5" r="2.78"/><circle cx="146.5" cy="212.5" r="2.78"/><circle cx="149.5" cy="213.5" r="2.78"/><circle cx="152.5" cy="211.5" r="2.78"/><circle cx="155.5" cy="211.5" r="2.78"/><circle cx="159.5" cy="212.5" r="2.78"/><circle cx="162.5" cy="211.5" r="2.78"/><circle cx="166.5" cy="212.5" r="2.78"/><circle cx="169.5" cy="215.5" r="2.78"/><circle cx="172.5" cy="221.5" r="2.78"/><circle cx="175.5" cy="217.5" r="2.78"/><circle cx="180.5" cy="214.5" r="2.78"/><circle cx="183.5" cy="211.5" r="2.78"/><circle cx="186.5" cy="214.5" r="2.78"/><circle cx="189.5" cy="214.5" r="2.78"/><circle cx="192.5" cy="211.5" r="2.78"/><circle cx="196.5" cy="214.5" r="2.78"/><circle cx="199.5" cy="216.5" r="2.78"/><circle cx="203.5" cy="216.5" r="2.78"/><circle cx="206.5" cy="216.5" r="2.78"/><circle cx="210.5" cy="215.5" r="2.78"/><circle cx="214.5" cy="214.5" r="2.78"/><circle cx="217.5" cy="216.5" r="2.78"/><circle cx="221.5" cy="216.5" r="2.78"/><circle cx="183.5" cy="221.5" r="2.78"/><circle cx="186.5" cy="219.5" r="2.78"/><circle cx="190.5" cy="221.5" r="2.78"/><circle cx="193.5" cy="220.5" r="2.78"/><circle cx="197.5" cy="220.5" r="2.78"/><circle cx="200.5" cy="220.5" r="2.78"/><circle cx="204.5" cy="220.5" r="2.78"/><circle cx="208.5" cy="220.5" r="2.78"/><circle cx="211.5" cy="219.5" r="2.78"/><circle cx="215.5" cy="219.5" r="2.78"/><circle cx="218.5" cy="221.5" r="2.78"/><circle cx="222.5" cy="220.5" r="2.78"/><circle cx="130.5" cy="228.5" r="2.78"/><circle cx="133.5" cy="228.5" r="2.78"/><circle cx="137.5" cy="226.5" r="2.78"/><circle cx="140.5" cy="227.5" r="2.78"/><circle cx="144.5" cy="229.5" r="2.78"/><circle cx="147.5" cy="228.5" r="2.78"/><circle cx="151.5" cy="226.5" r="2.78"/><circle cx="154.5" cy="228.5" r="2.78"/><circle cx="157.5" cy="226.5" r="2.78"/><circle cx="161.5" cy="226.5" r="2.78"/><circle cx="165.5" cy="228.5" r="2.78"/><circle cx="168.5" cy="226.5" r="2.78"/><circle cx="171.5" cy="232.5" r="2.78"/><circle cx="177.5" cy="231.5" r="2.78"/><circle cx="180.5" cy="228.5" r="2.78"/><circle cx="175.5" cy="237.5" r="2.78"/><circle cx="177.5" cy="242.5" r="2.78"/><circle cx="174.5" cy="244.5" r="2.78"/><circle cx="129.5" cy="280.5" r="2.78"/><circle cx="132.5" cy="282.5" r="2.78"/><circle cx="135.5" cy="281.5" r="2.78"/><circle cx="137.5" cy="280.5" r="2.78"/><circle cx="140.5" cy="278.5" r="2.78"/><circle cx="143.5" cy="280.5" r="2.78"/><circle cx="146.5" cy="277.5" r="2.78"/><circle cx="149.5" cy="281.5" r="2.78"/><circle cx="152.5" cy="276.5" r="2.78"/><circle cx="155.5" cy="280.5" r="2.78"/><circle cx="157.5" cy="276.5" r="2.78"/><circle cx="160.5" cy="283.5" r="2.78"/><circle cx="163.5" cy="282.5" r="2.78"/><circle cx="166.5" cy="281.5" r="2.78"/><circle cx="169.5" cy="278.5" r="2.78"/><circle cx="128.5" cy="291.5" r="2.78"/><circle cx="131.5" cy="290.5" r="2.78"/><circle cx="134.5" cy="291.5" r="2.78"/><circle cx="137.5" cy="290.5" r="2.78"/><circle cx="140.5" cy="287.5" r="2.78"/><circle cx="143.5" cy="289.5" r="2.78"/><circle cx="151.5" cy="287.5" r="2.78"/><circle cx="172.5" cy="290.5" r="2.78"/><circle cx="177.5" cy="302.5" r="2.78"/><circle cx="175.5" cy="304.5" r="2.78"/><circle cx="177.5" cy="307.5" r="2.78"/><circle cx="181.5" cy="284.5" r="2.78"/><circle cx="185.5" cy="281.5" r="2.78"/><circle cx="186.5" cy="287.5" r="2.78"/><circle cx="189.5" cy="283.5" r="2.78"/><circle cx="192.5" cy="285.5" r="2.78"/><circle cx="191.5" cy="290.5" r="2.78"/><circle cx="196.5" cy="286.5" r="2.78"/><circle cx="200.5" cy="281.5" r="2.78"/><circle cx="200.5" cy="286.5" r="2.78"/><circle cx="184.5" cy="289.5" r="2.78"/><circle cx="207.5" cy="286.5" r="2.78"/><circle cx="212.5" cy="287.5" r="2.78"/><circle cx="210.5" cy="291.5" r="2.78"/><circle cx="212.5" cy="293.5" r="2.78"/><circle cx="218.5" cy="291.5" r="2.78"/><circle cx="217.5" cy="288.5" r="2.78"/><circle cx="600.5" cy="187.5" r="2.78"/><circle cx="602.5" cy="189.5" r="2.78"/><circle cx="606.5" cy="189.5" r="2.78"/><circle cx="609.5" cy="184.5" r="2.78"/><circle cx="612.5" cy="187.5" r="2.78"/><circle cx="615.5" cy="186.5" r="2.78"/><circle cx="619.5" cy="187.5" r="2.78"/><circle cx="622.5" cy="189.5" r="2.78"/><circle cx="626.5" cy="185.5" r="2.78"/><circle cx="629.5" cy="188.5" r="2.78"/><circle cx="631.5" cy="191.5" r="2.78"/><circle cx="635.5" cy="190.5" r="2.78"/><circle cx="638.5" cy="190.5" r="2.78"/><circle cx="640.5" cy="192.5" r="2.78"/><circle cx="643.5" cy="204.5" r="2.78"/><circle cx="649.5" cy="204.5" r="2.78"/><circle cx="652.5" cy="195.5" r="2.78"/><circle cx="655.5" cy="190.5" r="2.78"/><circle cx="657.5" cy="194.5" r="2.78"/><circle cx="660.5" cy="193.5" r="2.78"/><circle cx="663.5" cy="198.5" r="2.78"/><circle cx="666.5" cy="198.5" r="2.78"/><circle cx="675.5" cy="198.5" r="2.78"/><circle cx="677.5" cy="200.5" r="2.78"/><circle cx="681.5" cy="196.5" r="2.78"/><circle cx="683.5" cy="202.5" r="2.78"/><circle cx="686.5" cy="198.5" r="2.78"/><circle cx="689.5" cy="200.5" r="2.78"/><circle cx="692.5" cy="201.5" r="2.78"/><circle cx="603.5" cy="214.5" r="2.78"/><circle cx="608.5" cy="218.5" r="2.78"/><circle cx="600.5" cy="221.5" r="2.78"/><circle cx="617.5" cy="212.5" r="2.78"/><circle cx="620.5" cy="213.5" r="2.78"/><circle cx="623.5" cy="211.5" r="2.78"/><circle cx="626.5" cy="211.5" r="2.78"/><circle cx="629.5" cy="212.5" r="2.78"/><circle cx="633.5" cy="211.5" r="2.78"/><circle cx="636.5" cy="212.5" r="2.78"/><circle cx="640.5" cy="215.5" r="2.78"/><circle cx="643.5" cy="221.5" r="2.78"/><circle cx="646.5" cy="217.5" r="2.78"/><circle cx="651.5" cy="214.5" r="2.78"/><circle cx="654.5" cy="211.5" r="2.78"/><circle cx="657.5" cy="214.5" r="2.78"/><circle cx="660.5" cy="214.5" r="2.78"/><circle cx="663.5" cy="211.5" r="2.78"/><circle cx="666.5" cy="214.5" r="2.78"/><circle cx="670.5" cy="216.5" r="2.78"/><circle cx="674.5" cy="216.5" r="2.78"/><circle cx="677.5" cy="216.5" r="2.78"/><circle cx="681.5" cy="215.5" r="2.78"/><circle cx="684.5" cy="214.5" r="2.78"/><circle cx="688.5" cy="216.5" r="2.78"/><circle cx="692.5" cy="216.5" r="2.78"/><circle cx="654.5" cy="221.5" r="2.78"/><circle cx="657.5" cy="219.5" r="2.78"/><circle cx="660.5" cy="221.5" r="2.78"/><circle cx="664.5" cy="220.5" r="2.78"/><circle cx="668.5" cy="220.5" r="2.78"/><circle cx="671.5" cy="220.5" r="2.78"/><circle cx="675.5" cy="220.5" r="2.78"/><circle cx="678.5" cy="220.5" r="2.78"/><circle cx="682.5" cy="219.5" r="2.78"/><circle cx="686.5" cy="219.5" r="2.78"/><circle cx="689.5" cy="221.5" r="2.78"/><circle cx="692.5" cy="220.5" r="2.78"/><circle cx="601.5" cy="228.5" r="2.78"/><circle cx="604.5" cy="228.5" r="2.78"/><circle cx="608.5" cy="226.5" r="2.78"/><circle cx="611.5" cy="227.5" r="2.78"/><circle cx="615.5" cy="229.5" r="2.78"/><circle cx="618.5" cy="228.5" r="2.78"/><circle cx="622.5" cy="226.5" r="2.78"/><circle cx="624.5" cy="228.5" r="2.78"/><circle cx="628.5" cy="226.5" r="2.78"/><circle cx="631.5" cy="226.5" r="2.78"/><circle cx="636.5" cy="228.5" r="2.78"/><circle cx="639.5" cy="226.5" r="2.78"/><circle cx="642.5" cy="232.5" r="2.78"/><circle cx="647.5" cy="231.5" r="2.78"/><circle cx="651.5" cy="228.5" r="2.78"/><circle cx="645.5" cy="237.5" r="2.78"/><circle cx="647.5" cy="242.5" r="2.78"/><circle cx="645.5" cy="244.5" r="2.78"/><circle cx="599.5" cy="280.5" r="2.78"/><circle cx="602.5" cy="282.5" r="2.78"/><circle cx="605.5" cy="281.5" r="2.78"/><circle cx="608.5" cy="280.5" r="2.78"/><circle cx="610.5" cy="278.5" r="2.78"/><circle cx="614.5" cy="280.5" r="2.78"/><circle cx="617.5" cy="277.5" r="2.78"/><circle cx="619.5" cy="281.5" r="2.78"/><circle cx="623.5" cy="276.5" r="2.78"/><circle cx="625.5" cy="280.5" r="2.78"/><circle cx="628.5" cy="276.5" r="2.78"/><circle cx="631.5" cy="283.5" r="2.78"/><circle cx="634.5" cy="282.5" r="2.78"/><circle cx="637.5" cy="281.5" r="2.78"/><circle cx="640.5" cy="278.5" r="2.78"/><circle cx="598.5" cy="291.5" r="2.78"/><circle cx="601.5" cy="290.5" r="2.78"/><circle cx="604.5" cy="291.5" r="2.78"/><circle cx="607.5" cy="290.5" r="2.78"/><circle cx="610.5" cy="287.5" r="2.78"/><circle cx="613.5" cy="289.5" r="2.78"/><circle cx="621.5" cy="287.5" r="2.78"/><circle cx="642.5" cy="290.5" r="2.78"/><circle cx="647.5" cy="302.5" r="2.78"/><circle cx="645.5" cy="304.5" r="2.78"/><circle cx="648.5" cy="307.5" r="2.78"/><circle cx="651.5" cy="284.5" r="2.78"/><circle cx="655.5" cy="281.5" r="2.78"/><circle cx="656.5" cy="287.5" r="2.78"/><circle cx="659.5" cy="283.5" r="2.78"/><circle cx="662.5" cy="285.5" r="2.78"/><circle cx="661.5" cy="290.5" r="2.78"/><circle cx="666.5" cy="286.5" r="2.78"/><circle cx="670.5" cy="281.5" r="2.78"/><circle cx="670.5" cy="286.5" r="2.78"/><circle cx="654.5" cy="289.5" r="2.78"/><circle cx="678.5" cy="286.5" r="2.78"/><circle cx="683.5" cy="287.5" r="2.78"/><circle cx="680.5" cy="291.5" r="2.78"/><circle cx="683.5" cy="293.5" r="2.78"/><circle cx="689.5" cy="291.5" r="2.78"/><circle cx="687.5" cy="288.5" r="2.78"/><circle cx="692.5" cy="216.5" r="2.78"/><circle cx="693.5" cy="220.5" r="2.78"/><circle cx="650.5" cy="284.5" r="2.78"/><circle cx="653.5" cy="288.5" r="2.78"/><circle cx="659.5" cy="285.5" r="2.78"/><circle cx="663.5" cy="283.5" r="2.78"/><circle cx="667.5" cy="285.5" r="2.78"/><circle cx="676.5" cy="287.5" r="2.78"/><circle cx="680.5" cy="290.5" r="2.78"/><circle cx="685.5" cy="288.5" r="2.78"/><circle cx="689.5" cy="289.5" r="2.78"/><circle cx="692.5" cy="291.5" r="2.78"/></g>
<path d="M100.5 60.5H720.5V445.5H100.5ZM128.5 445.5V450.36M222.5 445.5V450.36M316.5 445.5V450.36M411.5 445.5V450.36M505.5 445.5V450.36M599.5 445.5V450.36M693.5 445.5V450.36M95.64 83.5H100.5M95.64 133.5H100.5M95.64 182.5H100.5M95.64 231.5H100.5M95.64 280.5H100.5M95.64 330.5H100.5M95.64 379.5H100.5M95.64 428.5H100.5" fill="none" stroke="#000" stroke-width="1.11" stroke-linecap="butt" stroke-linejoin="miter"/>
<text transform="matrix(1.1 0 0 1.1438922719675761 255.13449622647158 52.8955486687407)" style="font-size:17px">TIC 0142852841, period 3.4208 days</text><text transform="matrix(0 -1.110236220472441 1.0 0 49.73193475536099 325.53833894326465)" style="font-size:13.9px">Normalized PDC flux</text><text transform="matrix(1.0263157894736843 0 0 1.0 389.5887595378238 485.19651667590426)" style="font-size:13.9px">Phase</text><text transform="matrix(1.1923076923076923 0 0 1.0 111.89306409156666 466.19158255053435)" style="font-size:13.9px">−0.6</text><text transform="matrix(1.1923076923076923 0 0 1.0 205.8541455025151 465.799778180191)" style="font-size:13.9px">−0.4</text><text transform="matrix(1.1538461538461537 0 0 1.0 300.34335917266236 466.37037885959745)" style="font-size:13.9px">−0.2</text><text transform="matrix(1.0 0 0 1.0 401.7140013191138 466.04152953489785)" style="font-size:13.9px">0.0</text><text transform="matrix(1.0 0 0 1.0 495.5721654623443 466.2495303213262)" style="font-size:13.9px">0.2</text><text transform="matrix(1.0 0 0 1.0 589.7934799019797 465.6141051263689)" style="font-size:13.9px">0.4</text><text transform="matrix(1.0 0 0 1.0 683.8092197053979 466.1351342177246)" style="font-size:13.9px">0.6</text><text transform="matrix(1.037037037037037 0 0 1.0 60.629492426748584 433.8997095302235)" style="font-size:13.9px">0.96</text><text transform="matrix(1.0754458161865568 0 0 1.0 60.33614690781613 384.8130668372505)" style="font-size:13.9px">0.97</text><text transform="matrix(1.037037037037037 0 0 1.0 60.90281379149346 334.8229075514183)" style="font-size:13.9px">0.98</text><text transform="matrix(1.037037037037037 0 0 1.0 60.66701596177283 285.6449097775294)" style="font-size:13.9px">0.99</text><text transform="matrix(1.0384615384615385 0 0 1.0 60.596613095333495 236.91521459435498)" style="font-size:13.9px">1.00</text><text transform="matrix(1.0384615384615385 0 0 1.0 60.582974591658584 186.77253107720628)" style="font-size:13.9px">1.01</text><text transform="matrix(1.0384615384615385 0 0 1.0 60.38023691278194 138.06508328699158)" style="font-size:13.9px">1.02</text><text transform="matrix(1.0384615384615385 0 0 1.0 60.35142119339274 88.87898764874991)" style="font-size:13.9px">1.03</text>
</svg>
</body></html>
